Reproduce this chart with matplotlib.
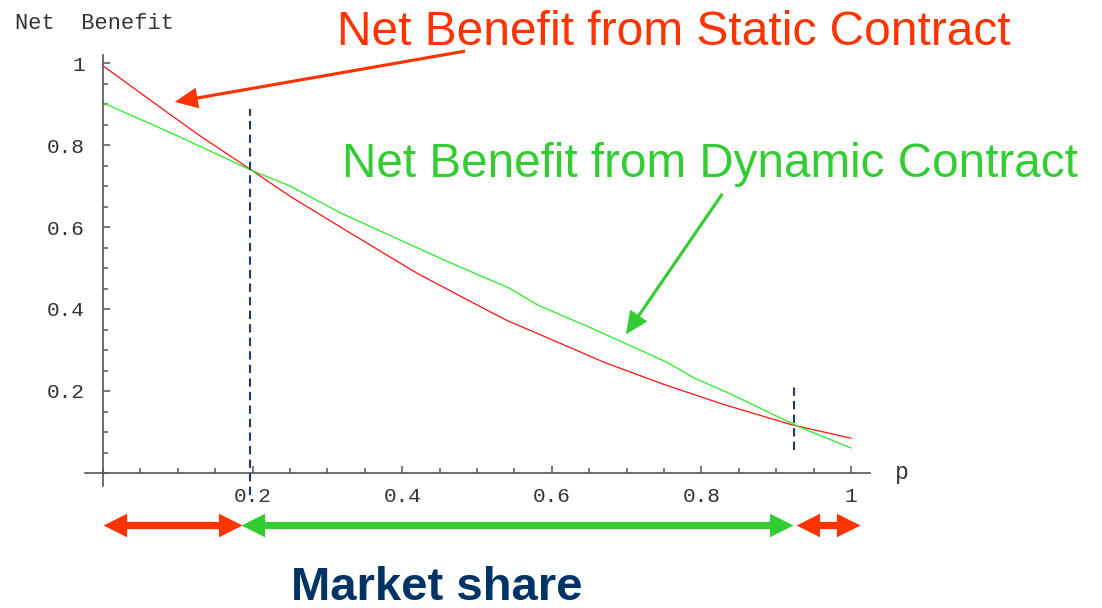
import matplotlib
matplotlib.use("Agg")
import matplotlib.pyplot as plt
from matplotlib.ticker import MultipleLocator, FixedLocator
from matplotlib.transforms import blended_transform_factory

# net benefit curves vs p
p_static = [0.0, 0.05, 0.1, 0.13, 0.2, 0.25, 0.33, 0.42, 0.5, 0.54, 0.58, 0.67, 0.75, 0.83, 0.92, 1.0]
static = [0.993, 0.927, 0.861, 0.822, 0.737, 0.675, 0.586, 0.487, 0.41, 0.372, 0.341, 0.270, 0.216, 0.167, 0.118, 0.085]

p_dynamic = [0.0, 0.1, 0.2, 0.25, 0.317, 0.384, 0.464, 0.544, 0.582, 0.651, 0.754, 0.791, 0.834, 0.93, 1.0]
dynamic = [0.903, 0.822, 0.737, 0.70, 0.635, 0.579, 0.513, 0.450, 0.409, 0.355, 0.270, 0.231, 0.197, 0.113, 0.061]

# crossing points of the two curves
crossings = [0.197, 0.924]

# market share ranges under the x axis
ranges = [(0.0, 0.186), (0.184, 0.9225), (0.927, 1.012)]

xticks = [0.2, 0.4, 0.6, 0.8, 1.0]
xticklabels = ["0.2", "0.4", "0.6", "0.8", "1"]
yticks = [0.2, 0.4, 0.6, 0.8, 1.0]
yticklabels = ["0.2", "0.4", "0.6", "0.8", "1"]

RED = "#ff3300"
GREEN = "#33cc33"
NAVY = "#003366"
DASH = "#1f3a68"
AXC = "#555555"

W, H = 1102, 608
fig = plt.figure(figsize=(W / 100, H / 100), dpi=100)

# axes placed so that p=0..1 spans px 103..851 and y=0..1 spans px 473..63
x0, x1 = 103, 851
y0, y1 = 473, 63
xl = (-0.024, 1.025)
yl = (-0.032, 1.02)
sx = x1 - x0
sy = y0 - y1
left = x0 + xl[0] * sx
bottom = y0 - yl[0] * sy
ax = fig.add_axes([left / W, 1 - bottom / H, (xl[1] - xl[0]) * sx / W, (yl[1] - yl[0]) * sy / H])
ax.set_xlim(*xl)
ax.set_ylim(*yl)

for s in ["top", "right"]:
    ax.spines[s].set_visible(False)
ax.spines["left"].set_position(("data", 0))
ax.spines["bottom"].set_position(("data", 0))
for s in ["left", "bottom"]:
    ax.spines[s].set_color(AXC)
    ax.spines[s].set_linewidth(1.2)

mono = ["Liberation Mono", "DejaVu Sans Mono"]
ax.xaxis.set_major_locator(FixedLocator(xticks))
ax.set_xticklabels(xticklabels, family=mono, fontsize=15.2, color="#333333")
ax.xaxis.set_minor_locator(MultipleLocator(0.05))
ax.yaxis.set_major_locator(FixedLocator(yticks))
ax.set_yticklabels(yticklabels, family=mono, fontsize=15.2, color="#333333")
ax.yaxis.set_minor_locator(MultipleLocator(0.05))
ax.tick_params(which="both", direction="in", color=AXC, width=1.1)
ax.tick_params(which="major", length=5)
ax.tick_params(which="minor", length=3.5)
ax.tick_params(axis="x", which="major", pad=10)
ax.tick_params(axis="y", which="major", pad=13)

ax.plot(p_static, static, color="#ff1010", lw=0.9, clip_on=False)
ax.plot(p_dynamic, dynamic, color="#22ee22", lw=0.9, clip_on=False)

# dashed markers at the crossings
ax.plot([crossings[0]] * 2, [-0.054, 0.888], color=DASH, lw=1.5,
        ls=(0, (4, 2.5)), clip_on=False, zorder=3)
ax.plot([crossings[1]] * 2, [0.056, 0.214], color=DASH, lw=1.5,
        ls=(0, (4, 2.5)), clip_on=False, zorder=3)

# labels with pointer arrows
fig.text(337 / W, 1 - 45 / H, "Net Benefit from Static Contract", color=RED,
         fontsize=34.5, family="Liberation Sans", va="baseline")
fig.text(342 / W, 1 - 177 / H, "Net Benefit from Dynamic Contract", color=GREEN,
         fontsize=34.3, family="Liberation Sans", va="baseline")

pointer = dict(arrowstyle="simple,head_length=0.55,head_width=0.5,tail_width=0.075",
               mutation_scale=30, lw=0, shrinkA=0, shrinkB=0)
ax.annotate("", xy=(0.096, 0.905), xytext=(0.484, 1.029), annotation_clip=False,
            arrowprops=dict(pointer, color=RED))
ax.annotate("", xy=(0.699, 0.338), xytext=(0.828, 0.681), annotation_clip=False,
            arrowprops=dict(pointer, color=GREEN))

# market share ranges: thick shaft plus triangle heads with the tip at the end
ybar = 1 - 525 / H
trans = blended_transform_factory(ax.transData, fig.transFigure)
head_l = [(0, 0), (1, 0.5), (1, -0.5), (0, 0)]
head_r = [(0, 0), (-1, 0.5), (-1, -0.5), (0, 0)]
inset = 0.016
for (a, b), c in zip(ranges, [RED, GREEN, RED]):
    ax.plot([a + inset, b - inset], [ybar, ybar], transform=trans, color=c,
            lw=5.2, solid_capstyle="butt", clip_on=False)
    ax.plot([a], [ybar], transform=trans, marker=head_l, ms=34, mew=0,
            color=c, clip_on=False)
    ax.plot([b], [ybar], transform=trans, marker=head_r, ms=34, mew=0,
            color=c, clip_on=False)

fig.text(437 / W, 1 - 600 / H, "Market share", color=NAVY, fontsize=34,
         fontweight="bold", family="Liberation Sans", ha="center", va="baseline")

fig.text(15 / W, 1 - 29 / H, "Net  Benefit", family=mono, fontsize=15.8,
         color="#333333", va="baseline")
fig.text(902 / W, 1 - 479 / H, "p", family=mono, fontsize=16.5,
         color="#333333", ha="center", va="baseline")

fig.savefig("out.png", dpi=100)
